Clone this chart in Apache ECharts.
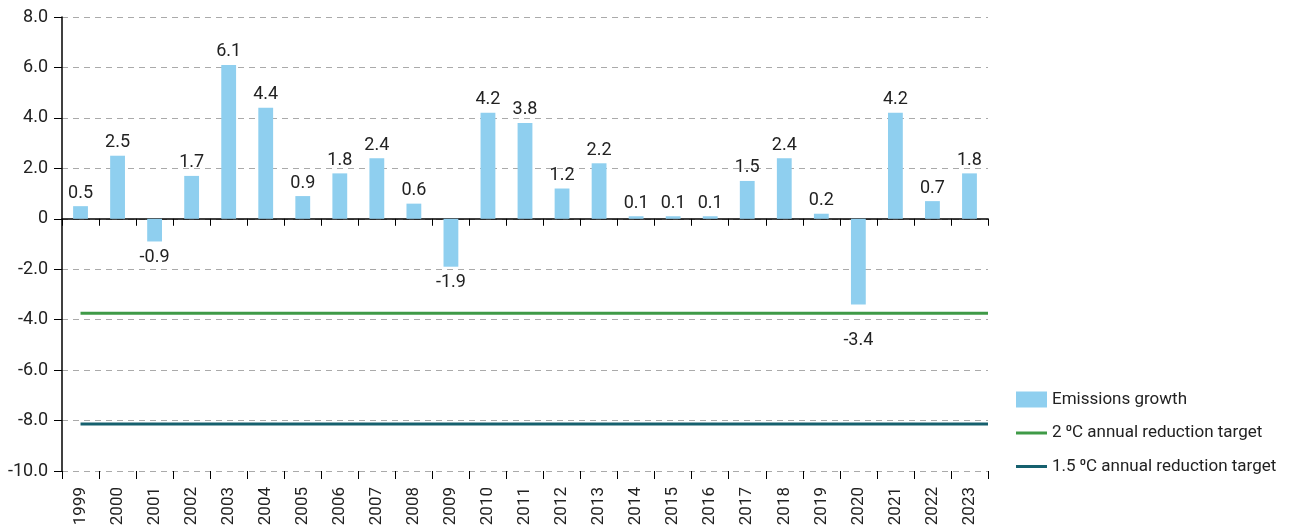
<!DOCTYPE html>
<html>
<head>
<meta charset="utf-8">
<script src="https://cdn.jsdelivr.net/npm/echarts@6/dist/echarts.min.js"></script>
<style>
  html, body { margin: 0; padding: 0; background: #fff; }
  #chart { width: 1290px; height: 528px; }
</style>
</head>
<body>
<div id="chart"></div>
<script>
const years = ['1999', '2000', '2001', '2002', '2003', '2004', '2005', '2006', '2007', '2008',
  '2009', '2010', '2011', '2012', '2013', '2014', '2015', '2016', '2017', '2018',
  '2019', '2020', '2021', '2022', '2023'];
const growth = [0.5, 2.5, -0.9, 1.7, 6.1, 4.4, 0.9, 1.8, 2.4, 0.6,
  -1.9, 4.2, 3.8, 1.2, 2.2, 0.1, 0.1, 0.1, 1.5, 2.4,
  0.2, -3.4, 4.2, 0.7, 1.8];
const target2C = [-3.75, -3.75];
const target15C = [-8.14, -8.14];
const targetSpan = [0, 24.5]; // from first year to the right edge
const yMin = -10, yMax = 8, yStep = 2;

const names = ['Emissions growth', '2 \u2070C annual reduction target', '1.5 \u2070C annual reduction target'];
const font = "Roboto, sans-serif";
// thin bar inside a 31x16 box so the legend shows a plain line
const lineIcon = 'path://M0,0L0,0M0,6.5L31,6.5L31,9.5L0,9.5ZM31,16L31,16';

const chart = echarts.init(document.getElementById('chart'));

const option = {
  animation: false,
  textStyle: { fontFamily: font },
  grid: {
    left: 62,
    right: 302,
    top: 17,
    bottom: 57,
    outerBoundsMode: 'none'
  },
  legend: {
    orient: 'vertical',
    left: 1016,
    top: 391,
    padding: 0,
    itemWidth: 31,
    itemHeight: 16,
    itemGap: 16.5,
    textStyle: { fontSize: 17, color: '#222', fontFamily: font },
    data: [
      { name: names[0], icon: 'rect' },
      { name: names[1], icon: lineIcon },
      { name: names[2], icon: lineIcon }
    ]
  },
  xAxis: [{
    type: 'category',
    data: years,
    position: 'bottom',
    axisLine: { show: false, onZero: false },
    axisTick: { show: true, length: 8, lineStyle: { color: '#000' } },
    axisLabel: { rotate: 90, margin: 16, fontSize: 17, color: '#222', fontFamily: font }
  }, {
    type: 'category',
    data: years,
    position: 'top',
    axisLine: { show: true, onZero: true, lineStyle: { color: '#000', width: 1.5 } },
    axisTick: { show: true, inside: true, length: 7, lineStyle: { color: '#000' } },
    axisLabel: { show: false }
  }, {
    type: 'value',
    min: -0.5,
    max: 24.5,
    show: false
  }],
  yAxis: {
    type: 'value',
    min: yMin,
    max: yMax,
    interval: yStep,
    axisLine: { show: true, onZero: false, lineStyle: { color: '#000', width: 1.5 } },
    axisTick: { show: true, length: 8, lineStyle: { color: '#000' } },
    axisLabel: {
      fontSize: 18,
      color: '#222',
      margin: 14,
      fontFamily: font,
      formatter: v => (v === 0 ? '0' : v.toFixed(1))
    },
    splitLine: { lineStyle: { color: '#aaa', type: [6, 5], width: 1 } }
  },
  series: [{
    name: names[0],
    type: 'bar',
    xAxisIndex: 0,
    barWidth: '40%',
    itemStyle: { color: '#8fcfef' },
    data: growth.map((v, i) => {
      const item = { value: v };
      if (v < 0) {
        item.label = { position: 'bottom', distance: years[i] === '2020' ? 27 : 7 };
      }
      return item;
    }),
    label: {
      show: true,
      position: 'top',
      distance: 4,
      fontSize: 18,
      color: '#222',
      fontFamily: font,
      formatter: p => p.value.toFixed(1)
    }
  }, {
    name: names[1],
    type: 'line',
    xAxisIndex: 2,
    symbol: 'none',
    lineStyle: { color: '#3f9a47', width: 3 },
    itemStyle: { color: '#3f9a47' },
    data: targetSpan.map((x, i) => [x, target2C[i]])
  }, {
    name: names[2],
    type: 'line',
    xAxisIndex: 2,
    symbol: 'none',
    lineStyle: { color: '#16606e', width: 3 },
    itemStyle: { color: '#16606e' },
    data: targetSpan.map((x, i) => [x, target15C[i]])
  }]
};

chart.setOption(option);
</script>
</body>
</html>
